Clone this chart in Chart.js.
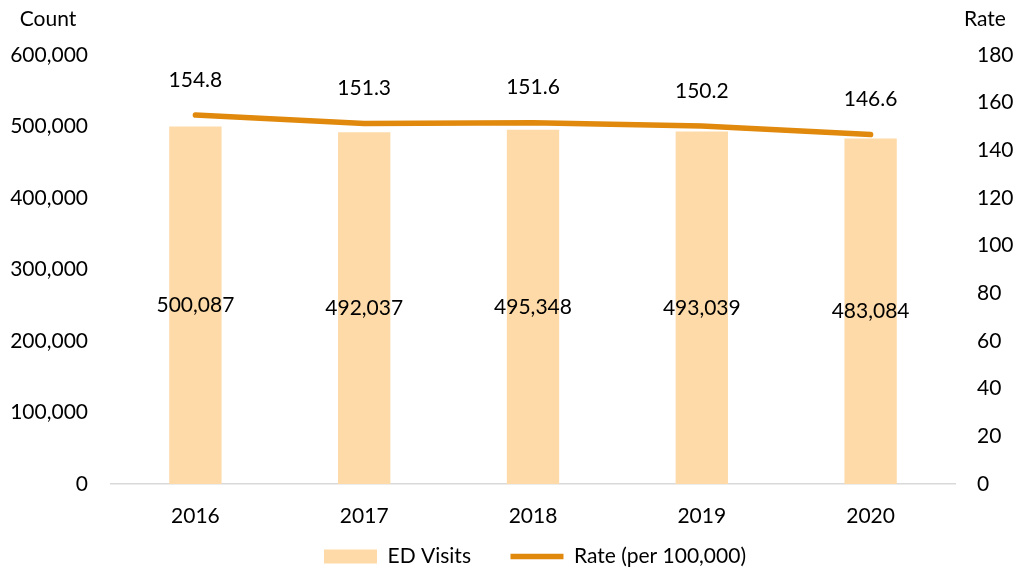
<!DOCTYPE html>
<html>
<head>
<meta charset="utf-8">
<script src="https://cdn.jsdelivr.net/npm/chart.js@4.4.1/dist/chart.umd.min.js"></script>
<style>
  html, body { margin: 0; padding: 0; background: #fff; }
  #wrap { width: 1018px; height: 571px; position: relative; }
</style>
</head>
<body>
<div id="wrap"><canvas id="edChart"></canvas></div>
<script>
// Dados do gráfico
const years = ['2016', '2017', '2018', '2019', '2020'];
const edVisits = [500087, 492037, 495348, 493039, 483084];
const ratePer100k = [154.8, 151.3, 151.6, 150.2, 146.6];
const countTicks = [0, 100000, 200000, 300000, 400000, 500000, 600000];
const rateTicks = [0, 20, 40, 60, 80, 100, 120, 140, 160, 180];

const FONT = 'Lato, "Open Sans", sans-serif';
const barColor = '#FDDAA8';
const lineColor = '#E0890C';

// Rótulos de dados e títulos dos eixos
const labelsPlugin = {
    id: 'labelsPlugin',
    afterLayout(chart) {
        // desloca a legenda um pouco para a direita, como no original
        if (chart.legend) chart.legend.left += 52;
    },
    afterDatasetsDraw(chart) {
        const ctx = chart.ctx;
        ctx.save();
        ctx.fillStyle = '#000';
        ctx.font = '21px ' + FONT;
        ctx.textAlign = 'center';
        ctx.textBaseline = 'middle';

        chart.getDatasetMeta(0).data.forEach((bar, i) => {
            const mid = (bar.y + bar.base) / 2;
            ctx.fillText(edVisits[i].toLocaleString('en-US'), bar.x, mid);
        });
        chart.getDatasetMeta(1).data.forEach((pt, i) => {
            ctx.fillText(ratePer100k[i].toFixed(1), pt.x, pt.y - 35);
        });

        // títulos "Count" e "Rate"
        ctx.fillText('Count', 48, 19);
        ctx.fillText('Rate', 985, 19);
        ctx.restore();
    }
};

const chartData = {
    labels: years,
    datasets: [
        {
            type: 'bar',
            label: 'ED Visits',
            data: edVisits,
            yAxisID: 'yCount',
            backgroundColor: barColor,
            borderWidth: 0,
            pointStyle: 'rect',
            categoryPercentage: 1,
            barPercentage: 0.31,
            order: 1
        },
        {
            type: 'line',
            label: 'Rate (per 100,000)',
            data: ratePer100k,
            yAxisID: 'yRate',
            borderColor: lineColor,
            backgroundColor: lineColor,
            borderWidth: 5.5,
            borderCapStyle: 'round',
            pointRadius: 0,
            pointStyle: 'line',
            tension: 0,
            order: 0
        }
    ]
};

const chartOptions = {
    responsive: true,
    maintainAspectRatio: false,
    animation: false,
    layout: { padding: { top: 55, left: 0, right: 0, bottom: 0 } },
    plugins: {
        legend: {
            position: 'bottom',
            reverse: true,
            maxHeight: 43,
            labels: {
                usePointStyle: true,
                pointStyleWidth: 53,
                boxHeight: 14,
                padding: 18,
                color: '#000',
                font: { family: FONT, size: 21 },
                generateLabels(chart) {
                    const items = Chart.defaults.plugins.legend.labels.generateLabels(chart);
                    // espaço extra entre os itens da legenda
                    items.forEach(it => { if (it.datasetIndex === 0) it.text += '    '; });
                    return items;
                }
            }
        },
        tooltip: { enabled: false }
    },
    scales: {
        x: {
            grid: { display: false, drawTicks: false },
            border: { display: true, color: '#D9D9D9', width: 1.5 },
            ticks: { color: '#000', padding: 20, font: { family: FONT, size: 21 } },
            afterFit(scale) { scale.height = 44; }
        },
        yCount: {
            position: 'left',
            min: 0,
            max: 600000,
            grid: { display: false, drawTicks: false },
            border: { display: false },
            afterBuildTicks(scale) { scale.ticks = countTicks.map(v => ({ value: v })); },
            ticks: {
                color: '#000',
                padding: 23,
                font: { family: FONT, size: 21 },
                callback: v => v.toLocaleString('en-US')
            },
            afterFit(scale) { scale.width = 111; }
        },
        yRate: {
            position: 'right',
            min: 0,
            max: 180,
            grid: { display: false, drawTicks: false },
            border: { display: false },
            afterBuildTicks(scale) { scale.ticks = rateTicks.map(v => ({ value: v })); },
            ticks: {
                color: '#000',
                padding: 22,
                font: { family: FONT, size: 21 }
            },
            afterFit(scale) { scale.width = 63; }
        }
    }
};

document.addEventListener('DOMContentLoaded', () => {
    const ctx = document.getElementById('edChart');
    new Chart(ctx, {
        data: chartData,
        options: chartOptions,
        plugins: [labelsPlugin]
    });
});
</script>
</body>
</html>
